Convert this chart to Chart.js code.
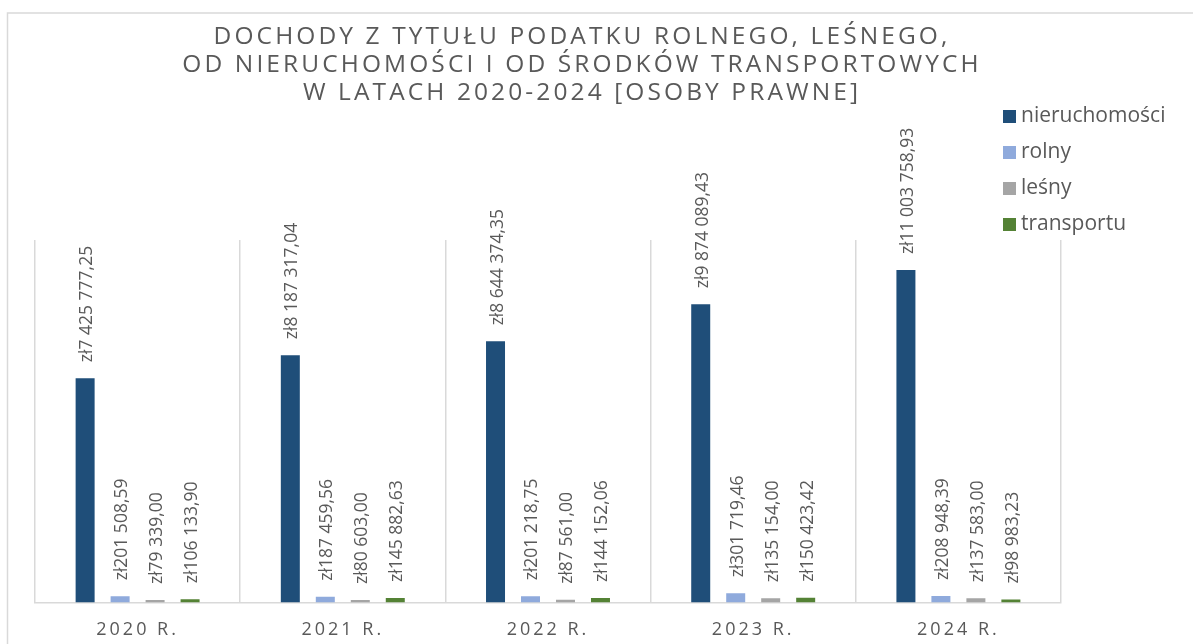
<!DOCTYPE html>
<html>
<head>
<meta charset="utf-8">
<script src="https://cdn.jsdelivr.net/npm/chart.js@4.4.1/dist/chart.umd.min.js"></script>
<style>
  html, body { margin: 0; padding: 0; background: #fff; }
  #wrap { width: 1193px; height: 644px; position: relative; }
</style>
</head>
<body>
<div id="wrap"><canvas id="myBarChart"></canvas></div>
<script>
const years = ["2020 R.", "2021 R.", "2022 R.", "2023 R.", "2024 R."];
const seriesNames = ["nieruchomości", "rolny", "leśny", "transportu"];
const nieruchomosci = [7425777.25, 8187317.04, 8644374.35, 9874089.43, 11003758.93];
const rolny = [201508.59, 187459.56, 201218.75, 301719.46, 208948.39];
const lesny = [79339.0, 80603.0, 87561.0, 135154.0, 137583.0];
const transportu = [106133.9, 145882.63, 144152.06, 150423.42, 98983.23];
const titleLines = [
  "DOCHODY Z TYTUŁU PODATKU ROLNEGO, LEŚNEGO,",
  "OD NIERUCHOMOŚCI I OD ŚRODKÓW TRANSPORTOWYCH",
  "W LATACH 2020-2024 [OSOBY PRAWNE]",
];

const colors = ["#1f4e79", "#8faadc", "#a5a5a5", "#548235"];
const textGray = "#595959";

// zł7 425 777,25
function formatZl(v) {
  const parts = v.toFixed(2).split(".");
  const intPart = parts[0].replace(/\B(?=(\d{3})+(?!\d))/g, " ");
  return "zł" + intPart + "," + parts[1];
}

// frame, title, legend and letter spacing for axis labels
const decorPlugin = {
  id: "decor",
  beforeDraw(chart) {
    const ctx = chart.ctx;
    ctx.save();
    ctx.strokeStyle = "#d9d9d9";
    ctx.lineWidth = 1.5;
    ctx.beginPath();
    ctx.moveTo(7.5, 700);
    ctx.lineTo(7.5, 13);
    ctx.lineTo(1200, 13);
    ctx.stroke();

    ctx.fillStyle = textGray;
    ctx.font = "24.5px 'Open Sans'";
    ctx.letterSpacing = "3.1px";
    ctx.textAlign = "center";
    ctx.textBaseline = "alphabetic";
    titleLines.forEach((line, i) => {
      ctx.fillText(line, 582, 44 + i * 28);
    });

    ctx.letterSpacing = "0px";
    ctx.font = "21px 'Open Sans'";
    ctx.textAlign = "left";
    ctx.textBaseline = "middle";
    chart.data.datasets.forEach((ds, i) => {
      const y = 116 + i * 36;
      ctx.fillStyle = ds.backgroundColor;
      ctx.fillRect(1003, y - 6, 13, 13);
      ctx.fillStyle = textGray;
      ctx.fillText(ds.label, 1021, y);
    });
    ctx.restore();
    ctx.letterSpacing = "3px";
  },
  afterDraw(chart) {
    chart.ctx.letterSpacing = "0px";
  },
};

const valueLabels = {
  id: "valueLabels",
  afterDatasetsDraw(chart) {
    const ctx = chart.ctx;
    ctx.save();
    ctx.letterSpacing = "0px";
    ctx.font = "17.5px 'Open Sans'";
    ctx.fillStyle = textGray;
    ctx.textAlign = "left";
    ctx.textBaseline = "middle";
    chart.data.datasets.forEach((ds, i) => {
      chart.getDatasetMeta(i).data.forEach((bar, j) => {
        ctx.save();
        ctx.translate(bar.x + 2, bar.y - 16);
        ctx.rotate(-Math.PI / 2);
        ctx.fillText(formatZl(ds.data[j]), 0, 0);
        ctx.restore();
      });
    });
    ctx.restore();
  },
};

const ctx = document.getElementById("myBarChart").getContext("2d");
const myBarChart = new Chart(ctx, {
  type: "bar",
  data: {
    labels: years,
    datasets: [nieruchomosci, rolny, lesny, transportu].map((values, i) => ({
      label: seriesNames[i],
      data: values,
      backgroundColor: colors[i],
      categoryPercentage: 0.682,
      barPercentage: 0.543,
    })),
  },
  options: {
    responsive: true,
    maintainAspectRatio: false,
    animation: false,
    layout: { padding: { left: 35, right: 132, top: 240, bottom: -14 } },
    plugins: {
      legend: { display: false },
      title: { display: false },
      tooltip: { enabled: false },
    },
    scales: {
      x: {
        grid: { color: "#d9d9d9", lineWidth: 1.5, drawTicks: false, offset: true },
        border: { color: "#d9d9d9", width: 1.5 },
        ticks: {
          color: textGray,
          font: { family: "'Open Sans'", size: 18 },
          padding: 17,
        },
      },
      y: {
        display: false,
        min: 0,
        max: 12000000,
      },
    },
  },
  plugins: [decorPlugin, valueLabels],
});
</script>
</body>
</html>
